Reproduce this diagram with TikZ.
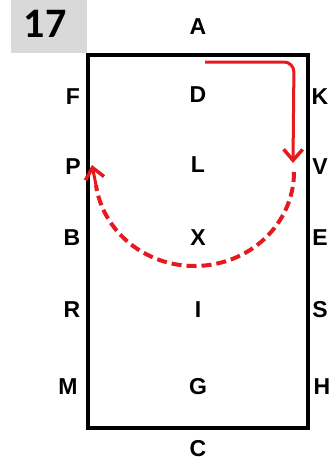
\documentclass[tikz,border=0pt]{standalone}
\usepackage{fontspec}
\setmainfont{Liberation Sans}
\newfontfamily\numfont{Carlito}
\usetikzlibrary{arrows.meta}
\definecolor{redline}{RGB}{230,25,30}
\definecolor{boxgray}{RGB}{217,217,217}
\begin{document}
\begin{tikzpicture}[x=1pt,y=-1pt,
  lbl/.style={font=\bfseries\fontsize{23}{25}\selectfont, inner sep=0pt},
  arena/.style={line width=4pt, draw=black},
  route/.style={draw=redline, line width=3pt},
  tipr/.style={-{Straight Barb[length=11pt,width=19pt,line width=3.5pt]}}]
\useasboundingbox (0,0) rectangle (333,461);
\fill[boxgray] (11,0) rectangle (87,53);
\node[inner sep=0pt, font=\numfont\bfseries\fontsize{42}{46}\selectfont] (num) at (45,24) {17};
\draw[arena] (88,55) rectangle (308,428);
\node[lbl] (A) at (198,27) {A};
\node[lbl] (D) at (198,95) {D};
\node[lbl] (L) at (198,165) {L};
\node[lbl] (X) at (198,238) {X};
\node[lbl] (I) at (198,310) {I};
\node[lbl] (G) at (198,387) {G};
\node[lbl] (C) at (198,449) {C};
\node[lbl] (F) at (73,97) {F};
\node[lbl] (P) at (73,167) {P};
\node[lbl] (B) at (72,238) {B};
\node[lbl] (R) at (72,310) {R};
\node[lbl] (M) at (68,387) {M};
\node[lbl] (K) at (320,97) {K};
\node[lbl] (V) at (320,167) {V};
\node[lbl] (E) at (320,238) {E};
\node[lbl] (S) at (320,310) {S};
\node[lbl] (H) at (322,387) {H};
\coordinate (s1) at (205,62);
\coordinate (s2) at (293,163);
\coordinate (a1) at (294,172);
\draw[route, tipr, rounded corners=10pt] (s1) -- (294,62) -- (s2);
\draw[route, line width=4pt, dash pattern=on 10pt off 5pt] (a1) arc[start angle=0, end angle=172, x radius=99.5, y radius=94];
\coordinate (t0) at (96,185);
\coordinate (t1) at (92,165);
\draw[route, tipr] (t0) -- (t1);
\end{tikzpicture}
\end{document}
